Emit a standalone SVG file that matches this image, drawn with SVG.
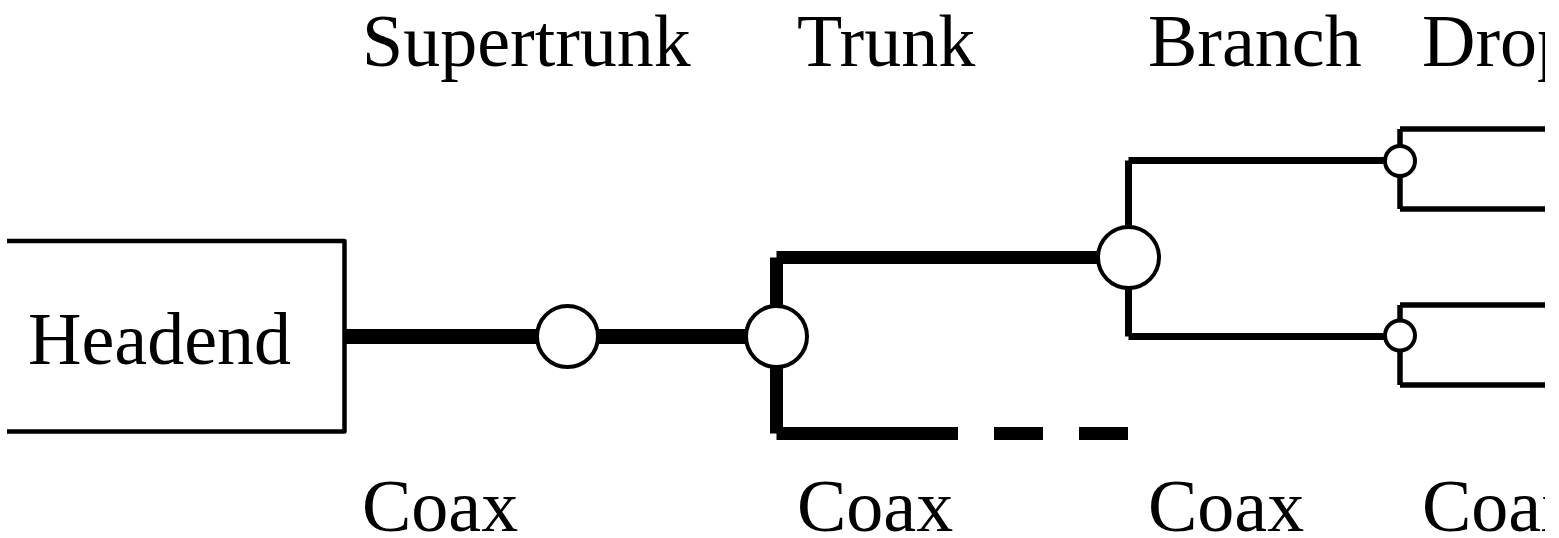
<svg xmlns="http://www.w3.org/2000/svg" width="1559" height="538" viewBox="0 0 1559 538">
  <style>
    .label { font-family: "Liberation Serif", "Times New Roman", serif; font-size: 74px; fill: #000; }
    .box { fill: none; stroke: #000; stroke-width: 4.5; stroke-linejoin: round; }
    .amp { fill: #fff; stroke: #000; stroke-width: 4; }
    .super { stroke: #000; stroke-width: 15; stroke-linecap: butt; fill: none; }
    .trunk { stroke: #000; stroke-width: 13; stroke-linecap: butt; fill: none; }
    .branch { stroke: #000; stroke-width: 7; stroke-linecap: butt; fill: none; }
    .drop { stroke: #000; stroke-width: 5.5; stroke-linecap: butt; fill: none; }
  </style>
  <defs>
    <clipPath id="sheet">
      <rect x="0" y="0" width="1545" height="538"/>
    </clipPath>
  </defs>
  <rect width="1559" height="538" fill="#fff"/>

  <!-- column headings -->
  <g id="headings" clip-path="url(#sheet)">
    <text class="label" x="362" y="66">Supertrunk</text>
    <text class="label" x="797" y="66">Trunk</text>
    <text class="label" x="1148" y="66">Branch</text>
    <text class="label" x="1422" y="66">Drop</text>
  </g>

  <!-- cable type under each column -->
  <g id="cable-types" clip-path="url(#sheet)">
    <text class="label" x="362" y="531">Coax</text>
    <text class="label" x="797" y="531">Coax</text>
    <text class="label" x="1148" y="531">Coax</text>
    <text class="label" x="1422" y="531">Coax</text>
  </g>

  <!-- cable runs -->
  <g id="connectors" clip-path="url(#sheet)">
    <!-- supertrunk -->
    <line class="super" x1="344" y1="336.5" x2="537" y2="336.5"/>
    <line class="super" x1="598" y1="336.5" x2="746" y2="336.5"/>
    <!-- trunk, upper run to the branch amplifier -->
    <line class="trunk" x1="776.5" y1="306" x2="776.5" y2="257.5"/>
    <line class="trunk" x1="776.5" y1="257.5" x2="1098" y2="257.5"/>
    <!-- trunk, lower run continuing onward -->
    <line class="trunk" x1="776.5" y1="367" x2="776.5" y2="433.5"/>
    <line class="trunk" x1="776.5" y1="433.5" x2="958" y2="433.5"/>
    <line class="trunk" x1="994" y1="433.5" x2="1043" y2="433.5"/>
    <line class="trunk" x1="1079" y1="433.5" x2="1128" y2="433.5"/>
    <!-- branch lines -->
    <line class="branch" x1="1128.5" y1="227" x2="1128.5" y2="160.5"/>
    <line class="branch" x1="1128.5" y1="160.5" x2="1385" y2="160.5"/>
    <line class="branch" x1="1128.5" y1="288" x2="1128.5" y2="336.5"/>
    <line class="branch" x1="1128.5" y1="336.5" x2="1385" y2="336.5"/>
    <!-- drops from the upper tap -->
    <line class="drop" x1="1400" y1="146" x2="1400" y2="129"/>
    <line class="drop" x1="1400" y1="129" x2="1545" y2="129"/>
    <line class="drop" x1="1400" y1="176" x2="1400" y2="209"/>
    <line class="drop" x1="1400" y1="209" x2="1545" y2="209"/>
    <!-- drops from the lower tap -->
    <line class="drop" x1="1400" y1="321" x2="1400" y2="305"/>
    <line class="drop" x1="1400" y1="305" x2="1545" y2="305"/>
    <line class="drop" x1="1400" y1="351" x2="1400" y2="385"/>
    <line class="drop" x1="1400" y1="385" x2="1545" y2="385"/>
  </g>

  <g id="headend">
    <path class="box" d="M7 241 H344.5 V431.5 H7"/>
    <text class="label" x="28" y="364">Headend</text>
  </g>

  <g id="amp-supertrunk">
    <circle class="amp" cx="567.5" cy="336.5" r="30.5"/>
  </g>
  <g id="amp-trunk">
    <circle class="amp" cx="776.5" cy="336.5" r="30.5"/>
  </g>
  <g id="amp-branch">
    <circle class="amp" cx="1128.5" cy="257.5" r="30.5"/>
  </g>
  <g id="tap-upper">
    <circle class="amp" cx="1400" cy="161" r="15"/>
  </g>
  <g id="tap-lower">
    <circle class="amp" cx="1400" cy="335.5" r="15"/>
  </g>
</svg>
